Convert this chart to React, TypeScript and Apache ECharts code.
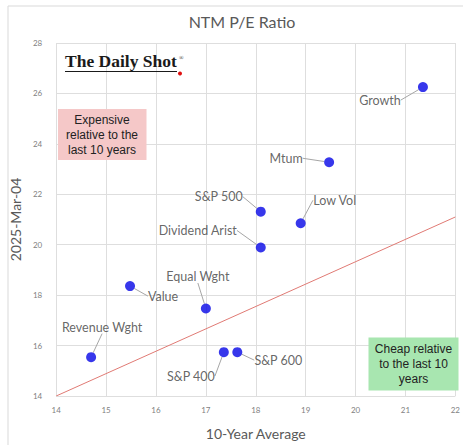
import React, { useEffect, useRef } from "react";
import * as echarts from "echarts";

const names = ["Growth", "Mtum", "S&P 500", "Low Vol", "Dividend Arist", "Value", "Equal Wght", "Revenue Wght", "S&P 400", "S&P 600"];
const avg10y = [21.35, 19.47, 18.1, 18.9, 18.1, 15.48, 17.0, 14.7, 17.36, 17.63];
const current = [26.25, 23.27, 21.31, 20.85, 19.89, 18.36, 17.47, 15.54, 15.74, 15.74];
const refLineX = [14, 22];
const refLineY = [14, 21.1];

const labelOffsets: Record<string, [number, number]> = {
  "Growth": [-43, 13],
  "Mtum": [-43, -4],
  "S&P 500": [-42, -15],
  "Low Vol": [34, -23],
  "Dividend Arist": [-63, -17],
  "Value": [33, 10],
  "Equal Wght": [-8, -32],
  "Revenue Wght": [11, -30],
  "S&P 400": [-33, 24],
  "S&P 600": [41, 8],
};

const FONT = "Lato, 'Open Sans', sans-serif";

export default function App() {
  const ref = useRef<HTMLDivElement>(null);
  useEffect(() => {
    if (!ref.current) return;
    const chart = echarts.init(ref.current, undefined, { renderer: "svg" });
    const pts = names.map((n, i) => ({ name: n, value: [avg10y[i], current[i]] }));
    chart.setOption({
      animation: false,
      backgroundColor: "#ffffff",
      title: {
        text: "NTM P/E Ratio",
        left: 237,
        top: 8,
        textAlign: "center",
        textStyle: { fontFamily: FONT, fontSize: 16, fontWeight: "normal", color: "#595959" },
      },
      grid: { left: 51.5, right: 5, top: 43, bottom: 48 },
      xAxis: {
        type: "value",
        min: 14,
        max: 22,
        interval: 1,
        name: "10-Year Average",
        nameLocation: "middle",
        nameGap: 30,
        nameTextStyle: { fontFamily: FONT, fontSize: 14, color: "#595959" },
        axisLine: { show: false },
        axisTick: { show: false },
        axisLabel: { fontFamily: FONT, fontSize: 8, color: "#7f7f7f", margin: 10 },
        splitLine: { show: true, lineStyle: { color: "#dedede", width: 1 } },
      },
      yAxis: {
        type: "value",
        min: 14,
        max: 28,
        interval: 2,
        name: "2025-Mar-04",
        nameLocation: "middle",
        nameGap: 28,
        nameTextStyle: { fontFamily: FONT, fontSize: 14, color: "#595959" },
        axisLine: { show: false },
        axisTick: { show: false },
        axisLabel: { fontFamily: FONT, fontSize: 8, color: "#7f7f7f", margin: 14 },
        splitLine: { show: true, lineStyle: { color: "#dedede", width: 1 } },
      },
      series: [
        {
          type: "line",
          data: refLineX.map((x, i) => [x, refLineY[i]]),
          symbol: "none",
          lineStyle: { color: "#e07a74", width: 1 },
          z: 2,
          silent: true,
        },
        {
          type: "scatter",
          data: pts,
          symbolSize: 10,
          itemStyle: { color: "#0505e6" },
          z: 5,
          label: {
            show: true,
            position: "inside",
            formatter: "{b}",
            fontFamily: FONT,
            fontSize: 12.5,
            color: "#404040",
          },
          labelLine: { show: true, lineStyle: { color: "#a6a6a6", width: 1 } },
          labelLayout: (params: any) => {
            const off = labelOffsets[names[params.dataIndex]] || [0, 0];
            return { dx: off[0], dy: off[1] };
          },
        },
      ],
      graphic: [
        {
          type: "rect",
          shape: { x: 8, y: 6, width: 470, height: 460 },
          style: { fill: "none", stroke: "#d9d9d9", lineWidth: 1 },
          silent: true,
        },
        {
          type: "rect",
          shape: { x: 58, y: 109, width: 88.5, height: 51 },
          style: { fill: "#f5c8c8" },
          z: 10,
        },
        {
          type: "text",
          x: 102,
          y: 134.5,
          style: {
            text: "Expensive\nrelative to the\nlast 10 years",
            align: "center",
            verticalAlign: "middle",
            fontFamily: "'Liberation Sans', Arial, sans-serif",
            fontSize: 12,
            lineHeight: 15,
            fill: "#222222",
          },
          z: 11,
        },
        {
          type: "rect",
          shape: { x: 368.5, y: 337.5, width: 90, height: 53 },
          style: { fill: "#a8e6b0" },
          z: 10,
        },
        {
          type: "text",
          x: 413.5,
          y: 364,
          style: {
            text: "Cheap relative\nto the last 10\nyears",
            align: "center",
            verticalAlign: "middle",
            fontFamily: "'Liberation Sans', Arial, sans-serif",
            fontSize: 12,
            lineHeight: 15,
            fill: "#222222",
          },
          z: 11,
        },
        {
          type: "text",
          x: 65,
          y: 52,
          style: {
            text: "The Daily Shot",
            fontFamily: "'Liberation Serif', 'DejaVu Serif', serif",
            fontSize: 17.5,
            fontWeight: "bold",
            fill: "#1a1a1a",
          },
          z: 11,
        },
        {
          type: "text",
          x: 179,
          y: 55,
          style: {
            text: "®",
            fontFamily: "'Liberation Serif', serif",
            fontSize: 6,
            fill: "#1a1a1a",
          },
          z: 11,
        },
        {
          type: "line",
          shape: { x1: 65, y1: 71.5, x2: 177, y2: 71.5 },
          style: { stroke: "#1a1a1a", lineWidth: 1 },
          z: 11,
        },
        {
          type: "circle",
          shape: { cx: 180, cy: 73.5, r: 2 },
          style: { fill: "#e01010" },
          z: 11,
        },
      ],
    });
    return () => chart.dispose();
  }, []);
  return (
    <div
      ref={ref}
      style={{ position: "fixed", left: 0, top: 0, width: 463, height: 445 }}
    />
  );
}
